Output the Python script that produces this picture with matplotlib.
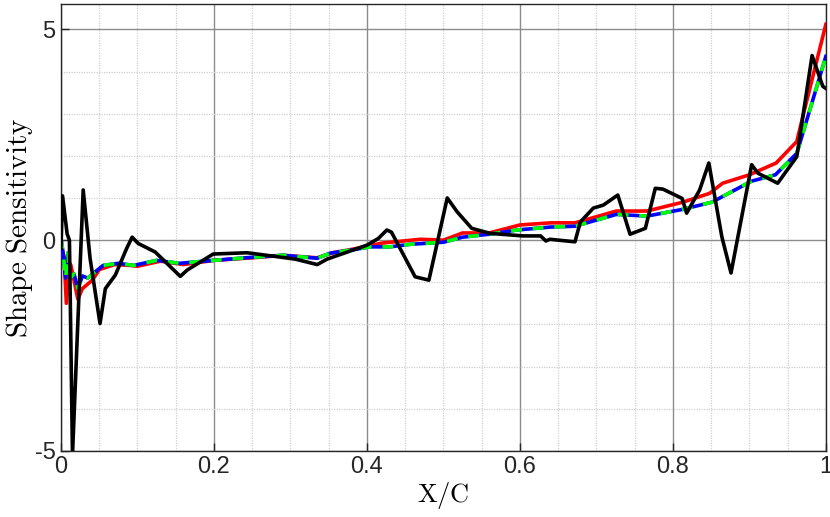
import matplotlib
matplotlib.use("Agg")
import matplotlib.pyplot as plt
from matplotlib.ticker import MultipleLocator

plt.rcParams['mathtext.fontset'] = 'cm'

# black (noisy) sensitivity
xk = [0.0, 0.002, 0.008, 0.011, 0.015, 0.029, 0.038, 0.051, 0.058, 0.071,
      0.086, 0.093, 0.101, 0.123, 0.156, 0.165, 0.199, 0.243, 0.248, 0.306,
      0.335, 0.348, 0.400, 0.415, 0.426, 0.432, 0.463, 0.481, 0.505, 0.518,
      0.537, 0.561, 0.604, 0.627, 0.634, 0.639, 0.672, 0.679, 0.696, 0.709,
      0.728, 0.744, 0.764, 0.777, 0.787, 0.812, 0.818, 0.835, 0.847, 0.864,
      0.876, 0.903, 0.911, 0.937, 0.962, 0.982, 0.996, 1.0]
yk = [-0.2, 1.05, 0.15, 0.0, -5.1, 1.19, -0.43, -1.98, -1.15, -0.83,
      -0.19, 0.07, -0.08, -0.28, -0.86, -0.71, -0.33, -0.3, -0.31, -0.45,
      -0.58, -0.45, -0.12, 0.04, 0.24, 0.19, -0.87, -0.95, 1.0, 0.67,
      0.28, 0.16, 0.1, 0.1, -0.02, 0.02, -0.04, 0.43, 0.76, 0.83,
      1.07, 0.14, 0.28, 1.23, 1.21, 0.99, 0.64, 1.19, 1.83, 0.08,
      -0.78, 1.79, 1.59, 1.35, 1.98, 4.38, 3.65, 3.6]

# red reference
xr = [0.0, 0.004, 0.007, 0.010, 0.013, 0.022, 0.028, 0.041, 0.050, 0.070,
      0.090, 0.100, 0.130, 0.160, 0.200, 0.250, 0.290, 0.335, 0.355, 0.380,
      0.420, 0.470, 0.500, 0.525, 0.560, 0.600, 0.640, 0.672, 0.726, 0.766,
      0.813, 0.848, 0.865, 0.900, 0.935, 0.962, 0.970, 1.0]
yr = [-0.1, -0.4, -1.5, -0.5, -0.6, -1.4, -1.15, -0.95, -0.7, -0.58,
      -0.6, -0.62, -0.5, -0.58, -0.48, -0.42, -0.36, -0.42, -0.3, -0.22,
      -0.07, 0.02, 0.0, 0.17, 0.17, 0.36, 0.41, 0.41, 0.69, 0.69,
      0.9, 1.11, 1.35, 1.55, 1.83, 2.34, 2.94, 5.12]

# blue / green (same curve)
xb = [0.0, 0.003, 0.006, 0.009, 0.012, 0.017, 0.022, 0.028, 0.035, 0.045,
      0.055, 0.075, 0.095, 0.125, 0.155, 0.200, 0.248, 0.290, 0.335, 0.352,
      0.378, 0.404, 0.430, 0.456, 0.500, 0.525, 0.560, 0.596, 0.640, 0.672,
      0.726, 0.766, 0.813, 0.851, 0.903, 0.934, 0.962, 0.983, 1.0]
yb = [0.05, -0.35, -0.9, -0.3, -0.9, -0.8, -1.15, -0.85, -0.9, -0.75,
      -0.6, -0.55, -0.6, -0.48, -0.55, -0.48, -0.41, -0.36, -0.43, -0.31,
      -0.24, -0.16, -0.16, -0.1, -0.05, 0.07, 0.14, 0.24, 0.31, 0.33,
      0.61, 0.57, 0.73, 0.9, 1.4, 1.55, 2.06, 3.33, 4.36]

xticks = [0, 0.2, 0.4, 0.6, 0.8, 1]
xtick_labels = ['0', '0.2', '0.4', '0.6', '0.8', '1']
yticks = [-5, 0, 5]
ytick_labels = ['-5', '0', '5']

fig = plt.figure(figsize=(8.3, 5.17), dpi=100)
ax = fig.add_axes([0.0735, 0.128, 0.9215, 0.864])

ax.plot(xr, yr, color='#ff0000', lw=2.6, zorder=3)
ax.plot(xb, yb, color='#0000ff', lw=2.6, zorder=4)
ax.plot(xb, yb, color='#00ff00', lw=2.6, ls=(0, (3, 3)), zorder=5)
ax.plot(xk, yk, color='black', lw=2.6, zorder=6)

ax.set_xlim(0, 1)
ax.set_ylim(-5, 5.6)
ax.set_xticks(xticks)
ax.set_xticklabels(xtick_labels)
ax.xaxis.set_minor_locator(MultipleLocator(0.05))
ax.set_yticks(yticks)
ax.set_yticklabels(ytick_labels)
ax.yaxis.set_minor_locator(MultipleLocator(1))

ax.grid(which='major', color='#8c8c8c', lw=1.0, zorder=0)
ax.grid(which='minor', color='#d0d0d0', lw=0.9, ls=(0, (1, 1)), zorder=0)
ax.set_axisbelow(True)
ax.tick_params(which='major', direction='in', length=6, width=1, colors='#262626',
               labelsize=17, pad=4)
ax.tick_params(which='minor', length=0)
for lab in ax.get_xticklabels() + ax.get_yticklabels():
    lab.set_family(['Liberation Sans', 'DejaVu Sans'])
    lab.set_color('#262626')
for s in ax.spines.values():
    s.set_color('#262626')
    s.set_linewidth(1.0)

ax.set_xlabel(r'$\mathrm{X/C}$', fontsize=19, labelpad=1)
ax.set_ylabel(r'$\mathrm{Shape\ Sensitivity}$', fontsize=21, labelpad=0)

fig.savefig('out.png', dpi=100)
